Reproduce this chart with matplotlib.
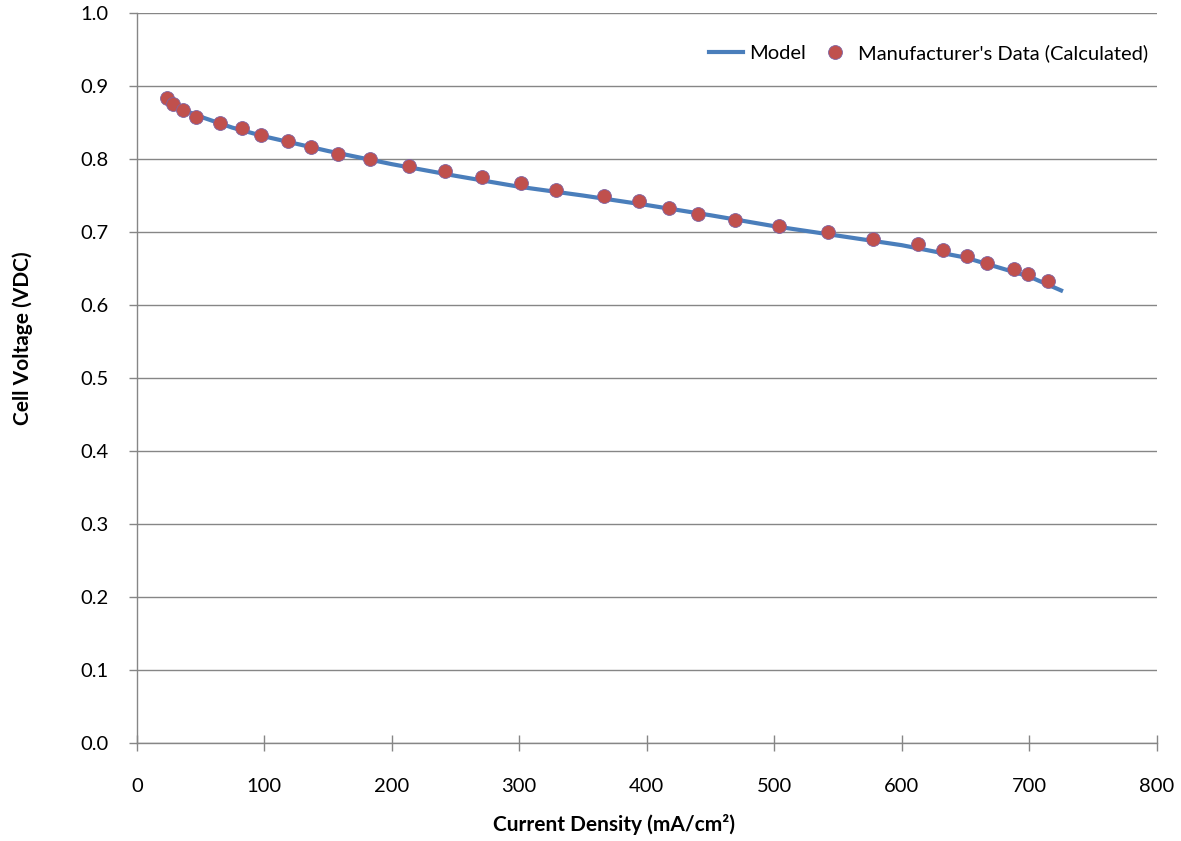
import matplotlib
matplotlib.use('Agg')
import matplotlib.pyplot as plt

# Manufacturer's data points
current_density = [23.5, 28.2, 36.1, 46.5, 65.6, 82.8, 97.5, 118.7, 137, 157.9,
                   182.7, 213.3, 242, 271, 301, 328.6, 366.5, 394.2, 417.7, 440,
                   469.5, 504, 542.2, 577.5, 612.5, 632.2, 651.5, 666.7, 688.3,
                   699.1, 714.5]
cell_voltage = [0.884, 0.875, 0.867, 0.858, 0.850, 0.842, 0.833, 0.825, 0.816, 0.807,
                0.800, 0.791, 0.783, 0.775, 0.767, 0.758, 0.750, 0.742, 0.733, 0.725,
                0.716, 0.708, 0.700, 0.691, 0.684, 0.675, 0.667, 0.658, 0.650,
                0.642, 0.633]

# Model curve
model_x = [24, 30, 40, 50, 75, 100, 150, 200, 250, 300, 350, 400, 450, 500,
           550, 600, 650, 700, 725]
model_y = [0.883, 0.874, 0.865, 0.858, 0.843, 0.831, 0.811, 0.793, 0.777, 0.762,
           0.750, 0.737, 0.723, 0.708, 0.695, 0.682, 0.665, 0.639, 0.620]

plt.rcParams['font.family'] = ['Lato', 'DejaVu Sans']

fig = plt.figure(figsize=(11.81, 8.41), dpi=100)
ax = fig.add_axes([0.1158, 0.1165, 0.8636, 0.868])

ax.plot(model_x, model_y, color='#4A7EBB', linewidth=3, label='Model', zorder=3)
ax.plot(current_density, cell_voltage, linestyle='none', marker='o', markersize=10,
        markerfacecolor='#C0504D', markeredgecolor='#8064A2', markeredgewidth=0.6,
        label="Manufacturer's Data (Calculated)", zorder=4)

ax.set_xlim(0, 800)
ax.set_ylim(0, 1.0)
ax.set_xticks(range(0, 801, 100))
ax.set_yticks([i / 10 for i in range(11)])
ax.set_yticklabels([f'{i / 10:.1f}' for i in range(11)])

ax.grid(axis='y', color='#868686', linewidth=1)
ax.set_axisbelow(True)
for s in ['top', 'right']:
    ax.spines[s].set_visible(False)
for s in ['left', 'bottom']:
    ax.spines[s].set_color('#868686')
    ax.spines[s].set_linewidth(1)

ax.tick_params(axis='y', direction='out', length=6, width=1, color='#868686',
               labelsize=14.5, pad=14)
ax.tick_params(axis='x', direction='inout', length=12, width=1, color='#868686',
               labelsize=14.5, pad=19)

# axis titles sit a bit off-centre in the original
ax.set_xlabel('Current Density (mA/cm²)', fontsize=15, fontweight='bold', va='center')
ax.xaxis.set_label_coords(0.468, -0.112)
ax.set_ylabel('Cell Voltage (VDC)', fontsize=15, fontweight='bold', va='center')
ax.yaxis.set_label_coords(-0.112, 0.555)

ax.legend(loc='upper right', bbox_to_anchor=(1.0, 0.968), ncol=2, frameon=False,
          fontsize=14.5, handlelength=1.7, handletextpad=0.3, columnspacing=0.6,
          borderaxespad=0.0)

fig.savefig('out.png', dpi=100)
